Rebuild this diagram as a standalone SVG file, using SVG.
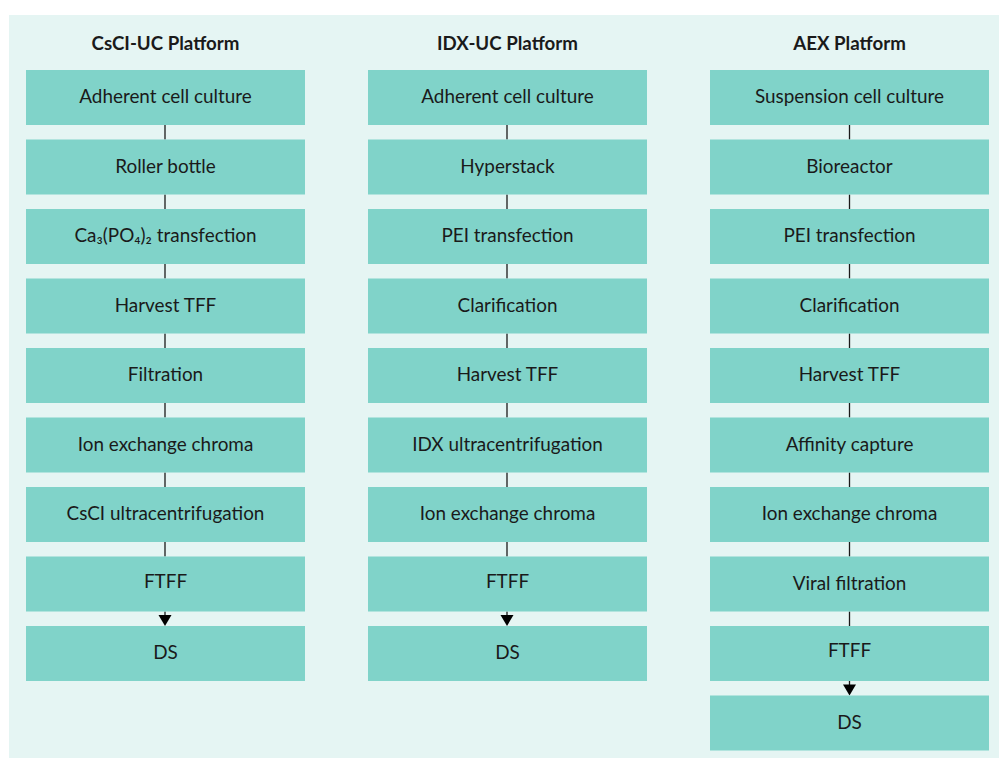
<svg xmlns="http://www.w3.org/2000/svg" width="999" height="758" viewBox="0 0 999 758">
<defs>
<style>
.bx{fill:#80d3c9}
.t{font-family:Lato,"Liberation Sans",sans-serif;font-size:18.9px;fill:#1a1a1a;text-anchor:middle}
.h{font-family:Lato,"Liberation Sans",sans-serif;font-size:18.7px;font-weight:bold;fill:#1a1a1a;text-anchor:middle}
.c{stroke:#1a1a1a;stroke-width:1.3;fill:none}
.ah{fill:#000}
</style>
</defs>
<rect x="9" y="15" width="990" height="743" fill="#e5f5f3"/>
<text class="h" x="165.5" y="50">CsCI-UC Platform</text>
<text class="h" x="507.5" y="50">IDX-UC Platform</text>
<text class="h" x="849.5" y="50">AEX Platform</text>
<g id="connectors">
<line class="c" x1="165" y1="125" x2="165" y2="139.5"/>
<line class="c" x1="165" y1="194.5" x2="165" y2="209"/>
<line class="c" x1="165" y1="264" x2="165" y2="278.5"/>
<line class="c" x1="165" y1="333.5" x2="165" y2="348"/>
<line class="c" x1="165" y1="403" x2="165" y2="417.5"/>
<line class="c" x1="165" y1="472.5" x2="165" y2="487"/>
<line class="c" x1="165" y1="542" x2="165" y2="556.5"/>
<line class="c" x1="165" y1="611.5" x2="165" y2="616"/>
<path class="ah" d="M158.5,615 L171.5,615 L165,626 Z"/>
<line class="c" x1="507" y1="125" x2="507" y2="139.5"/>
<line class="c" x1="507" y1="194.5" x2="507" y2="209"/>
<line class="c" x1="507" y1="264" x2="507" y2="278.5"/>
<line class="c" x1="507" y1="333.5" x2="507" y2="348"/>
<line class="c" x1="507" y1="403" x2="507" y2="417.5"/>
<line class="c" x1="507" y1="472.5" x2="507" y2="487"/>
<line class="c" x1="507" y1="542" x2="507" y2="556.5"/>
<line class="c" x1="507" y1="611.5" x2="507" y2="616"/>
<path class="ah" d="M500.5,615 L513.5,615 L507,626 Z"/>
<line class="c" x1="849.5" y1="125" x2="849.5" y2="139.5"/>
<line class="c" x1="849.5" y1="194.5" x2="849.5" y2="209"/>
<line class="c" x1="849.5" y1="264" x2="849.5" y2="278.5"/>
<line class="c" x1="849.5" y1="333.5" x2="849.5" y2="348"/>
<line class="c" x1="849.5" y1="403" x2="849.5" y2="417.5"/>
<line class="c" x1="849.5" y1="472.5" x2="849.5" y2="487"/>
<line class="c" x1="849.5" y1="542" x2="849.5" y2="556.5"/>
<line class="c" x1="849.5" y1="611.5" x2="849.5" y2="626"/>
<line class="c" x1="849.5" y1="681" x2="849.5" y2="685.5"/>
<path class="ah" d="M843,684.5 L856,684.5 L849.5,695.5 Z"/>
</g>
<g id="a1"><rect class="bx" x="26" y="70" width="279" height="55"/><text class="t" x="165.5" y="103">Adherent cell culture</text></g>
<g id="a2"><rect class="bx" x="26" y="139.5" width="279" height="55"/><text class="t" x="165.5" y="172.5">Roller bottle</text></g>
<g id="a3"><rect class="bx" x="26" y="209" width="279" height="55"/><text class="t" x="165.5" y="242">Ca₃(PO₄)₂ transfection</text></g>
<g id="a4"><rect class="bx" x="26" y="278.5" width="279" height="55"/><text class="t" x="165.5" y="311.5">Harvest TFF</text></g>
<g id="a5"><rect class="bx" x="26" y="348" width="279" height="55"/><text class="t" x="165.5" y="381">Filtration</text></g>
<g id="a6"><rect class="bx" x="26" y="417.5" width="279" height="55"/><text class="t" x="165.5" y="450.5">Ion exchange chroma</text></g>
<g id="a7"><rect class="bx" x="26" y="487" width="279" height="55"/><text class="t" x="165.5" y="520">CsCI ultracentrifugation</text></g>
<g id="a8"><rect class="bx" x="26" y="556.5" width="279" height="55"/><text class="t" x="165.5" y="587.5">FTFF</text></g>
<g id="a9"><rect class="bx" x="26" y="626" width="279" height="55"/><text class="t" x="165.5" y="659">DS</text></g>
<g id="b1"><rect class="bx" x="368" y="70" width="279" height="55"/><text class="t" x="507.5" y="103">Adherent cell culture</text></g>
<g id="b2"><rect class="bx" x="368" y="139.5" width="279" height="55"/><text class="t" x="507.5" y="172.5">Hyperstack</text></g>
<g id="b3"><rect class="bx" x="368" y="209" width="279" height="55"/><text class="t" x="507.5" y="242">PEI transfection</text></g>
<g id="b4"><rect class="bx" x="368" y="278.5" width="279" height="55"/><text class="t" x="507.5" y="311.5">Clarification</text></g>
<g id="b5"><rect class="bx" x="368" y="348" width="279" height="55"/><text class="t" x="507.5" y="381">Harvest TFF</text></g>
<g id="b6"><rect class="bx" x="368" y="417.5" width="279" height="55"/><text class="t" x="507.5" y="450.5">IDX ultracentrifugation</text></g>
<g id="b7"><rect class="bx" x="368" y="487" width="279" height="55"/><text class="t" x="507.5" y="520">Ion exchange chroma</text></g>
<g id="b8"><rect class="bx" x="368" y="556.5" width="279" height="55"/><text class="t" x="507.5" y="587.5">FTFF</text></g>
<g id="b9"><rect class="bx" x="368" y="626" width="279" height="55"/><text class="t" x="507.5" y="659">DS</text></g>
<g id="c1"><rect class="bx" x="710" y="70" width="279" height="55"/><text class="t" x="849.5" y="103">Suspension cell culture</text></g>
<g id="c2"><rect class="bx" x="710" y="139.5" width="279" height="55"/><text class="t" x="849.5" y="172.5">Bioreactor</text></g>
<g id="c3"><rect class="bx" x="710" y="209" width="279" height="55"/><text class="t" x="849.5" y="242">PEI transfection</text></g>
<g id="c4"><rect class="bx" x="710" y="278.5" width="279" height="55"/><text class="t" x="849.5" y="311.5">Clarification</text></g>
<g id="c5"><rect class="bx" x="710" y="348" width="279" height="55"/><text class="t" x="849.5" y="381">Harvest TFF</text></g>
<g id="c6"><rect class="bx" x="710" y="417.5" width="279" height="55"/><text class="t" x="849.5" y="450.5">Affinity capture</text></g>
<g id="c7"><rect class="bx" x="710" y="487" width="279" height="55"/><text class="t" x="849.5" y="520">Ion exchange chroma</text></g>
<g id="c8"><rect class="bx" x="710" y="556.5" width="279" height="55"/><text class="t" x="849.5" y="589.5">Viral filtration</text></g>
<g id="c9"><rect class="bx" x="710" y="626" width="279" height="55"/><text class="t" x="849.5" y="657">FTFF</text></g>
<g id="c10"><rect class="bx" x="710" y="695.5" width="279" height="55"/><text class="t" x="849.5" y="728.5">DS</text></g>
</svg>
